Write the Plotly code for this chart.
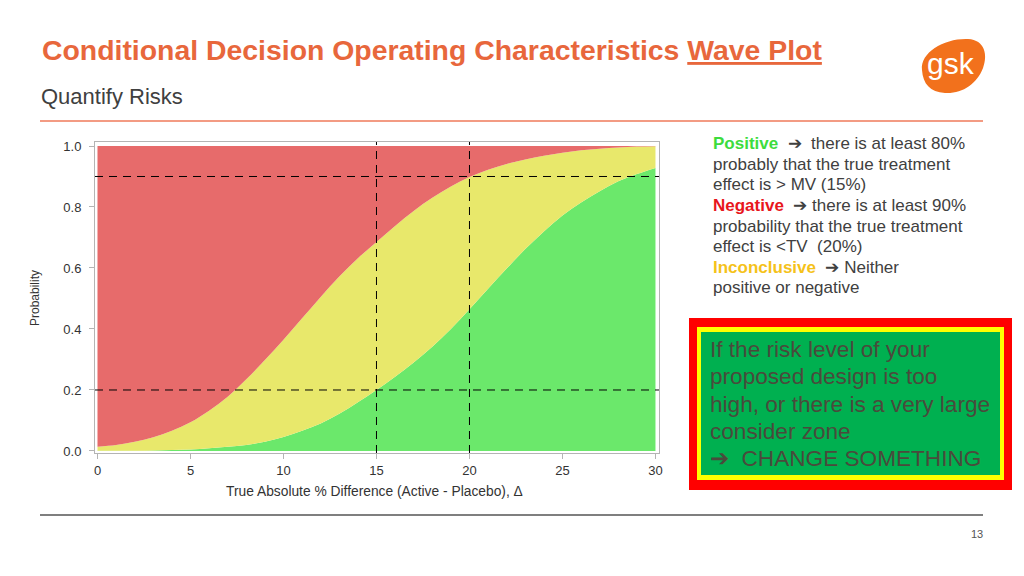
import plotly.graph_objects as go

# ---------------- data ----------------
delta = list(range(0, 31))
p_positive = [0.001, 0.001, 0.001, 0.002, 0.003, 0.005, 0.009, 0.014, 0.02, 0.03,
              0.046, 0.066, 0.09, 0.122, 0.16, 0.2, 0.243, 0.29, 0.342, 0.4,
              0.465, 0.532, 0.598, 0.662, 0.72, 0.772, 0.815, 0.852, 0.884, 0.908, 0.928]
p_not_negative = [0.014, 0.02, 0.03, 0.045, 0.066, 0.094, 0.132, 0.178, 0.235, 0.298,
                  0.365, 0.435, 0.505, 0.572, 0.632, 0.685, 0.738, 0.787, 0.83, 0.867,
                  0.898, 0.922, 0.941, 0.956, 0.968, 0.978, 0.986, 0.991, 0.995, 0.998, 0.999]
p_inconclusive = [round(u - p, 4) for u, p in zip(p_not_negative, p_positive)]
p_negative = [round(1 - u, 4) for u in p_not_negative]

mv_line = 15
tv_line = 20
h_lines = [0.2, 0.9]

x_ticks = [0, 5, 10, 15, 20, 25, 30]
y_ticks = [0.0, 0.2, 0.4, 0.6, 0.8, 1.0]

title_text = "Conditional Decision Operating Characteristics <u>Wave Plot</u>"
subtitle_text = "Quantify Risks"
x_title = "True Absolute % Difference (Active - Placebo), Δ"
y_title = "Probability"

right_lines = [
    "<span style='color:#3ddc3d'><b>Positive</b></span>&nbsp;&nbsp;➔&nbsp;&nbsp;there is at least 80%",
    "probably that the true treatment",
    "effect is &gt; MV (15%)",
    "<span style='color:#e8161c'><b>Negative</b></span>&nbsp;&nbsp;➔ there is at least 90%",
    "probability that the true treatment",
    "effect is &lt;TV&nbsp;&nbsp;(20%)",
    "<span style='color:#f5c21a'><b>Inconclusive</b></span>&nbsp;&nbsp;➔ Neither",
    "positive or negative",
]
box_lines = [
    "If the risk level of your",
    "proposed design is too",
    "high, or there is a very large",
    "consider zone",
    "➔&nbsp;&nbsp;CHANGE SOMETHING",
]

FONT = "Liberation Sans, Arial, sans-serif"
OFF = 8  # page body margin
W, H = 1024 - 2 * OFF, 576 - 2 * OFF
L, R, T, B = 95 - OFF, 659 - OFF, 142 - OFF, 453 - OFF  # plot frame in figure pixels


def px(x):
    return (x - OFF - L) / (R - L)


def py(y):
    return (B - (y - OFF)) / (B - T)


fig = go.Figure()
fig.add_trace(go.Scatter(x=delta, y=p_positive, stackgroup="one", mode="lines",
                         line=dict(width=0, shape="spline"), fillcolor="#6be86b", name="Positive"))
fig.add_trace(go.Scatter(x=delta, y=p_inconclusive, stackgroup="one", mode="lines",
                         line=dict(width=0, shape="spline"), fillcolor="#e8e86b", name="Inconclusive"))
fig.add_trace(go.Scatter(x=delta, y=p_negative, stackgroup="one", mode="lines",
                         line=dict(width=0, shape="spline"), fillcolor="#e76b6b", name="Negative"))

for xv in [mv_line, tv_line]:
    fig.add_vline(x=xv, line=dict(color="black", width=1, dash="8px,6px"))
for yv in h_lines:
    fig.add_hline(y=yv, line=dict(color="black", width=1, dash="8px,6px"))

shapes = []
# header / footer rules
shapes.append(dict(type="line", xref="paper", yref="paper", x0=px(40), x1=px(983), y0=py(121), y1=py(121),
                   line=dict(color="#ef7a5a", width=1.5)))
shapes.append(dict(type="line", xref="paper", yref="paper", x0=px(40), x1=px(983), y0=py(515), y1=py(515),
                   line=dict(color="#7f7f7f", width=2)))
# logo blob
pts = [(922, 70), (920, 52), (945, 38), (968, 39), (985, 40), (988, 55), (983, 68),
       (977, 84), (962, 94), (945, 93), (930, 92), (923, 84), (922, 70)]
path = "M {:.4f},{:.4f} ".format(px(pts[0][0]), py(pts[0][1]))
for i in range(1, len(pts), 3):
    path += "C " + " ".join("{:.4f},{:.4f}".format(px(a), py(b)) for a, b in pts[i:i + 3]) + " "
path += "Z"
shapes.append(dict(type="path", xref="paper", yref="paper", path=path,
                   fillcolor="#f2711c", line=dict(width=0)))
# callout box
for (x0, y0, x1, y1, c) in [(689, 318, 1012, 490, "#ff0000"),
                            (697, 327, 1004, 480, "#ffff00"),
                            (701, 332, 1000, 475, "#00b050")]:
    shapes.append(dict(type="rect", xref="paper", yref="paper", x0=px(x0), x1=px(x1),
                       y0=py(y1), y1=py(y0), fillcolor=c, line=dict(width=0), layer="below"))

ann = []
ann.append(dict(text="<b>" + title_text + "</b>", x=px(40), y=py(50), xref="paper", yref="paper",
                xanchor="left", yanchor="middle", showarrow=False,
                font=dict(family=FONT, size=28.4, color="#e8673c")))
ann.append(dict(text=subtitle_text, x=px(39), y=py(97), xref="paper", yref="paper",
                xanchor="left", yanchor="middle", showarrow=False,
                font=dict(family=FONT, size=22, color="#404040")))
ann.append(dict(text="gsk", x=px(951), y=py(63), xref="paper", yref="paper",
                xanchor="center", yanchor="middle", showarrow=False,
                font=dict(family=FONT, size=30, color="white")))
ann.append(dict(text=y_title, x=px(35), y=py(298), xref="paper", yref="paper", textangle=-90,
                xanchor="center", yanchor="middle", showarrow=False,
                font=dict(family=FONT, size=12, color="#333333")))
ann.append(dict(text=x_title, x=px(374), y=py(491), xref="paper", yref="paper",
                xanchor="center", yanchor="middle", showarrow=False,
                font=dict(family=FONT, size=13.8, color="#333333")))
ann.append(dict(text="13", x=px(977), y=py(534), xref="paper", yref="paper",
                xanchor="center", yanchor="middle", showarrow=False,
                font=dict(family=FONT, size=11, color="#555555")))
for i, t in enumerate(right_lines):
    yy = [143, 164, 184, 205, 226, 246, 267, 287][i]
    ann.append(dict(text=t, x=px(711), y=py(yy), xref="paper", yref="paper",
                    xanchor="left", yanchor="middle", showarrow=False,
                    font=dict(family=FONT, size=17, color="#404040")))
for i, t in enumerate(box_lines):
    yy = [349, 376, 404, 431, 458][i]
    ann.append(dict(text=t, x=px(708), y=py(yy), xref="paper", yref="paper",
                    xanchor="left", yanchor="middle", showarrow=False,
                    font=dict(family=FONT, size=22.6, color="#4a4a3c")))

fig.update_layout(
    width=W, height=H, autosize=False,
    margin=dict(l=L, r=W - R, t=T, b=H - B, pad=0),
    paper_bgcolor="white", plot_bgcolor="white",
    showlegend=False,
    shapes=list(fig.layout.shapes) + shapes,
    annotations=ann,
    xaxis=dict(range=[-0.134, 30.19], tickvals=x_ticks, ticktext=[str(v) for v in x_ticks],
               showgrid=False, zeroline=False, showline=True, mirror=True, linecolor="#b4b4b4",
               linewidth=1, ticks="outside", ticklen=5, tickcolor="#b4b4b4",
               tickfont=dict(family=FONT, size=13, color="#333333")),
    yaxis=dict(range=[-0.0066, 1.0131], tickvals=y_ticks, ticktext=["%.1f" % v for v in y_ticks],
               showgrid=False, zeroline=False, showline=True, mirror=True, linecolor="#b4b4b4",
               linewidth=1, ticks="outside", ticklen=5, tickcolor="#b4b4b4", ticklabelstandoff=5,
               tickfont=dict(family=FONT, size=13, color="#333333")),
)

fig.write_html("out.html")
